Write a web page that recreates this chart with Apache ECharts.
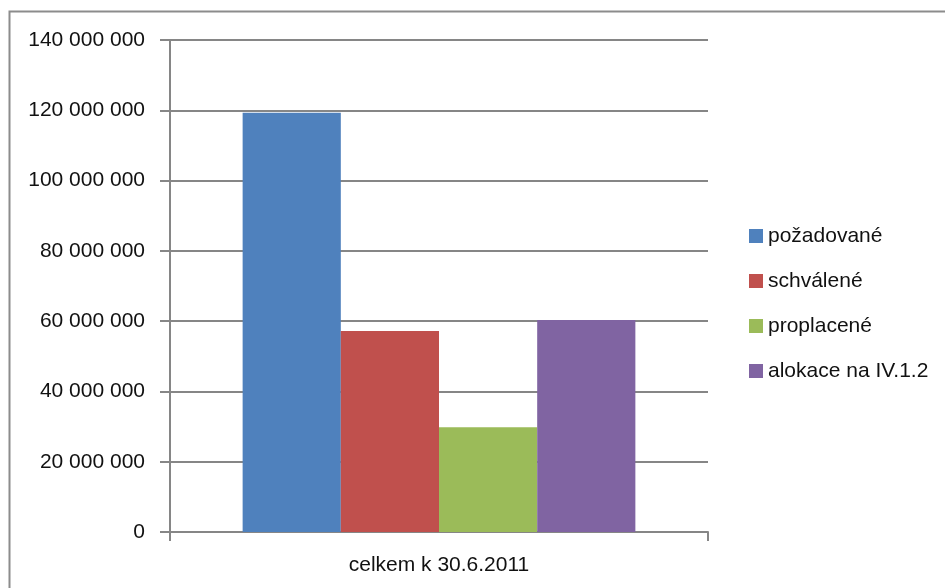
<!DOCTYPE html>
<html>
<head>
<meta charset="utf-8">
<script src="https://cdn.jsdelivr.net/npm/echarts@6/dist/echarts.min.js"></script>
<style>html,body{margin:0;padding:0;background:#fff}#c{width:945px;height:588px}</style>
</head>
<body>
<div id="c"></div>
<script>
var categories = ['celkem k 30.6.2011'];
var seriesNames = ['požadované', 'schválené', 'proplacené', 'alokace na IV.1.2'];
var pozadovane = [119300000];
var schvalene = [57200000];
var proplacene = [29800000];
var alokace = [60300000];
var colors = ['#4f81bd', '#c0504d', '#9bbb59', '#8064a2'];

var values = [pozadovane, schvalene, proplacene, alokace];
var font = '"Liberation Sans", Arial, sans-serif';
function fmt(v) {
  return String(v).replace(/\B(?=(\d{3})+(?!\d))/g, ' ');
}
var chart = echarts.init(document.getElementById('c'), null, {renderer: 'canvas'});
chart.setOption({
  animation: false,
  backgroundColor: '#fff',
  textStyle: {fontFamily: font},
  graphic: [{
    type: 'rect', shape: {x: 9.5, y: 11.5, width: 1000, height: 1000},
    style: {fill: 'none', stroke: '#8c8c8c', lineWidth: 2}, z: -1
  }],
  grid: {left: 170, right: 237, top: 40, bottom: 56, containLabel: false},
  legend: {
    orient: 'vertical', left: 744, top: 220,
    itemWidth: 14, itemHeight: 14, itemGap: 23,
    icon: 'rect',
    textStyle: {fontSize: 21, color: '#111', fontFamily: font, lineHeight: 22},
    data: seriesNames
  },
  xAxis: {
    type: 'category', data: categories,
    axisLine: {lineStyle: {color: '#868686', width: 2}},
    axisTick: {show: true, length: 9, lineStyle: {color: '#868686', width: 2}},
    axisLabel: {color: '#111', fontSize: 21, margin: 23, fontFamily: font},
    splitLine: {show: false}
  },
  yAxis: {
    type: 'value', min: 0, max: 140000000, interval: 20000000,
    axisLine: {show: true, lineStyle: {color: '#868686', width: 2}},
    axisTick: {show: true, length: 10, lineStyle: {color: '#868686', width: 2}},
    axisLabel: {color: '#111', fontSize: 21, margin: 25, formatter: fmt, fontFamily: font},
    splitLine: {lineStyle: {color: '#868686', width: 2}}
  },
  series: seriesNames.map(function (n, i) {
    return {
      name: n, type: 'bar', data: values[i],
      barGap: '0%', barCategoryGap: '27%',
      itemStyle: {color: colors[i]}
    };
  })
});
</script>
</body>
</html>
